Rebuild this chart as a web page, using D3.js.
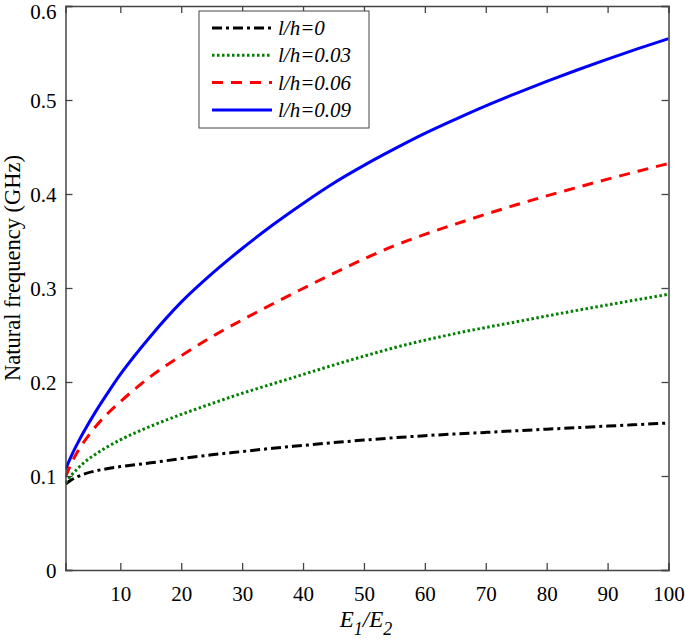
<!DOCTYPE html>
<html><head><meta charset="utf-8">
<script src="https://cdn.jsdelivr.net/npm/d3@7"></script>
<style>body{margin:0;background:#fff}svg{display:block}</style>
</head><body>
<script>
const ratio = [1,2,3,4,6,8,10,15,20,25,30,35,40,45,50,55,60,65,70,75,80,85,90,95,100];
const lh0   = [0.0915,0.096,0.0993,0.102,0.1055,0.108,0.110,0.114,0.1185,0.1225,0.126,0.1295,0.1325,0.1355,0.1382,0.1407,0.1429,0.1447,0.1464,0.1481,0.1498,0.1515,0.1531,0.1547,0.1564];
const lh003 = [0.0926,0.101,0.108,0.114,0.1235,0.1315,0.1385,0.153,0.1655,0.177,0.188,0.198,0.208,0.218,0.2275,0.2365,0.2445,0.2515,0.258,0.264,0.2702,0.2762,0.282,0.2877,0.2933];
const lh006 = [0.099,0.114,0.126,0.136,0.153,0.167,0.179,0.206,0.228,0.248,0.266,0.283,0.2995,0.3155,0.331,0.345,0.357,0.368,0.3785,0.3885,0.398,0.407,0.4158,0.4242,0.4325];
const lh009 = [0.107,0.122,0.135,0.147,0.169,0.189,0.208,0.249,0.285,0.315,0.342,0.367,0.390,0.4115,0.4305,0.448,0.4645,0.4795,0.4938,0.5071,0.5198,0.5319,0.5435,0.5546,0.5653];
const seriesNames = ["l/h=0","l/h=0.03","l/h=0.06","l/h=0.09"];
const xTicks = [10,20,30,40,50,60,70,80,90,100];
const yTicks = [0,0.1,0.2,0.3,0.4,0.5,0.6];

const W=685,H=641;
const m={l:65.5,r:668.5,t:6,b:570};
const svg=d3.select("body").append("svg").attr("width",W).attr("height",H);
const x=d3.scaleLinear().domain([1,100]).range([m.l,m.r]);
const y=d3.scaleLinear().domain([0,0.6]).range([m.b,m.t]);
const font='"Liberation Serif","Times New Roman",serif';
const axisCol="#444";

const styles=[
  {color:"#000000",dash:"10,4,3,4"},
  {color:"#008000",dash:"2.5,2.5"},
  {color:"#ff0000",dash:"11,8"},
  {color:"#0000ff",dash:null}
];
const data=[lh0,lh003,lh006,lh009];

svg.append("clipPath").attr("id","clip").append("rect")
  .attr("x",m.l).attr("y",m.t).attr("width",m.r-m.l).attr("height",m.b-m.t);

const line=d3.line().x((d,i)=>x(ratio[i])).y(d=>y(d)).curve(d3.curveMonotoneX);
const g=svg.append("g").attr("clip-path","url(#clip)");
data.forEach((s,k)=>{
  g.append("path").datum(s).attr("d",line).attr("fill","none")
   .attr("stroke",styles[k].color).attr("stroke-width",3)
   .attr("stroke-dasharray",styles[k].dash);
});

// axes
const ax=svg.append("g");
ax.append("g").attr("transform",`translate(0,${m.b})`)
  .call(d3.axisBottom(x).tickValues(xTicks).tickSize(-7).tickPadding(16).tickFormat(d3.format("d")));
ax.append("g").attr("transform",`translate(0,${m.t})`)
  .call(d3.axisTop(x).tickValues(xTicks).tickSize(-7).tickFormat(""));
const yAx=ax.append("g").attr("transform",`translate(${m.l},0)`)
  .call(d3.axisLeft(y).tickValues(yTicks).tickSize(-7).tickPadding(9).tickFormat(d=>d===0?"0":d3.format(".1f")(d)));
ax.append("g").attr("transform",`translate(${m.r},0)`)
  .call(d3.axisRight(y).tickValues(yTicks).tickSize(-7).tickFormat(""));
ax.selectAll(".domain").attr("stroke",axisCol).attr("stroke-width",1.5);
ax.selectAll(".tick line").attr("stroke",axisCol).attr("stroke-width",1.3);
ax.selectAll(".tick text").attr("fill","#000").style("font-family",font).style("font-size","21px");
yAx.selectAll(".tick text").attr("dy","0.38em");
// top label sits just inside the window, as in the reference
yAx.selectAll(".tick").filter(d=>d===0.6).select("text").attr("dy",null).attr("y",12.5);

// axis labels
svg.append("text").attr("transform","translate(20,268) rotate(-90)")
  .attr("text-anchor","middle").style("font-family",font).style("font-size","22.5px")
  .text("Natural frequency (GHz)");
const xl=svg.append("text").attr("x",366).attr("y",627).attr("text-anchor","middle")
  .style("font-family",font).style("font-size","23px").style("font-style","italic");
xl.append("tspan").text("E");
xl.append("tspan").attr("dy",8).style("font-size","18px").text("1");
xl.append("tspan").attr("dy",-8).text("/E");
xl.append("tspan").attr("dy",8).style("font-size","18px").text("2");

// legend
const lg=svg.append("g");
lg.append("rect").attr("x",199).attr("y",11).attr("width",170).attr("height",117)
  .attr("fill","#fff").attr("stroke",axisCol).attr("stroke-width",1);
seriesNames.forEach((n,k)=>{
  const yy=28+k*27.3;
  lg.append("line").attr("x1",212).attr("x2",272).attr("y1",yy).attr("y2",yy)
    .attr("stroke",styles[k].color).attr("stroke-width",3).attr("stroke-dasharray",styles[k].dash);
  lg.append("text").attr("x",278).attr("y",yy+7).style("font-family",font)
    .style("font-size","21px").style("font-style","italic").text(n);
});
</script>
</body></html>
